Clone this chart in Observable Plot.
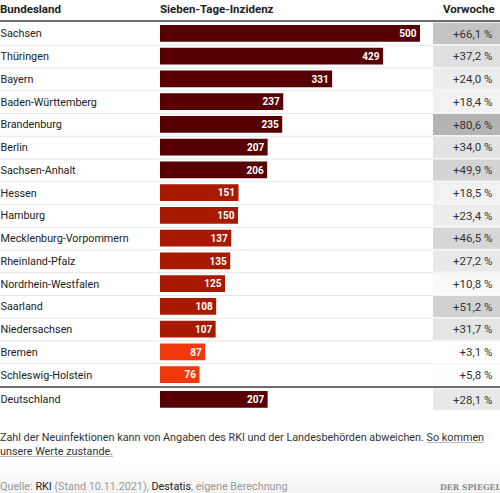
<!DOCTYPE html>
<html><head><meta charset="utf-8">
<script src="https://cdn.jsdelivr.net/npm/d3@7"></script>
<script src="https://cdn.jsdelivr.net/npm/@observablehq/plot@0.6"></script>
<style>
body{margin:0;background:#fff;font-family:Roboto,"Liberation Sans",sans-serif;color:#222;width:500px;height:493px;overflow:hidden;position:relative;}
#hdr{position:relative;height:20px;border-bottom:2px solid #6e6e6e;font-weight:bold;font-size:11.5px;}
#hdr span{position:absolute;top:2px;white-space:nowrap;}
.sec{display:flex;}
.sep{height:2px;background:#6e6e6e;}
#note{font-size:10.8px;line-height:14px;color:#333;margin-top:20px;white-space:nowrap;}
#note u{text-decoration:underline;text-decoration-color:#bbb;}
#src{position:absolute;left:0;right:0;bottom:0;height:26px;background:linear-gradient(#fff,#f1f1f1);font-size:10.8px;color:#9a9a9a;}
#src .l{position:absolute;left:0;bottom:0px;white-space:nowrap;}
#src b{font-weight:normal;color:#222;}
#src .r{position:absolute;right:-1px;bottom:1px;font-family:"DejaVu Serif",serif;font-weight:bold;font-size:7.8px;color:#8a8a8a;white-space:nowrap;}
</style></head>
<body>
<div id="hdr"><span style="left:0">Bundesland</span><span style="left:160px">Sieben-Tage-Inzidenz</span><span style="left:443px">Vorwoche</span></div>
<div id="table"></div>
<div id="note"><span>Zahl der Neuinfektionen kann von Angaben des RKI und der Landesbehörden abweichen.</span> <u>So kommen</u><br><u>unsere Werte zustande.</u></div>
<div id="src"><span class="l">Quelle: <b>RKI</b> (Stand 10.11.2021), <b>Destatis</b>, eigene Berechnung</span><span class="r">DER SPIEGEL</span></div>
<script>
const states = ["Sachsen","Thüringen","Bayern","Baden-Württemberg","Brandenburg","Berlin","Sachsen-Anhalt","Hessen","Hamburg","Mecklenburg-Vorpommern","Rheinland-Pfalz","Nordrhein-Westfalen","Saarland","Niedersachsen","Bremen","Schleswig-Holstein"];
const incidence = [500,429,331,237,235,207,206,151,150,137,135,125,108,107,87,76];
const change = [66.1,37.2,24.0,18.4,80.6,34.0,49.9,18.5,23.4,46.5,27.2,10.8,51.2,31.7,3.1,5.8];
const totalName = ["Deutschland"];
const totalIncidence = [207];
const totalChange = [28.1];

const rowH = 22.75;
const fmt = v => "+" + v.toFixed(1).replace(".", ",") + " %";

function section(names, inc, chg) {
  const data = names.map((n, i) => ({name: n, inc: inc[i], chg: chg[i]}));
  const h = rowH * names.length;
  const rules = data.slice(0, -1);
  const left = Plot.plot({
    width: 433, height: h, margin: 0,
    x: {domain: [0, 500], range: [160, 420]},
    y: {domain: names, padding: 0, round: false},
    color: {type: "threshold", domain: [100, 200], range: ["#ef390b", "#a81a00", "#570004"]},
    axis: null,
    style: {fontFamily: "Roboto, sans-serif", background: "transparent"},
    marks: [
      Plot.ruleY(rules, {y: "name", dy: rowH / 2, stroke: "#e6e6e6", strokeWidth: 1.2}),
      Plot.text(data, {y: "name", text: "name", frameAnchor: "left", textAnchor: "start", fontSize: 10.8, fill: "#222"}),
      Plot.barX(data, {x: "inc", y: "name", fill: "inc", insetTop: 3, insetBottom: 3}),
      Plot.text(data, {x: "inc", y: "name", text: d => String(d.inc), textAnchor: "end", dx: -4, fill: "#fff", fontWeight: "bold", fontSize: 10})
    ]
  });
  const right = Plot.plot({
    width: 67, height: h, margin: 0,
    y: {domain: names, padding: 0, round: false},
    color: {type: "linear", domain: [5, 85], range: ["#ffffff", "#b0b0b0"], clamp: true},
    axis: null,
    style: {fontFamily: "Roboto, sans-serif", background: "transparent"},
    marks: [
      Plot.cell(data, {y: "name", fill: "chg", insetTop: 0.6, insetBottom: 0.6}),
      Plot.ruleY(rules, {y: "name", dy: rowH / 2, stroke: "#f2f2f2", strokeWidth: 1.2}),
      Plot.text(data, {y: "name", text: d => fmt(d.chg), frameAnchor: "right", textAnchor: "end", dx: -8, fontSize: 11.5, fill: "#333"})
    ]
  });
  const div = document.createElement("div");
  div.className = "sec";
  div.append(left, right);
  return div;
}

const table = document.getElementById("table");
table.append(section(states, incidence, change));
const sep = document.createElement("div"); sep.className = "sep"; table.append(sep);
table.append(section(totalName, totalIncidence, totalChange));
</script>
</body></html>
